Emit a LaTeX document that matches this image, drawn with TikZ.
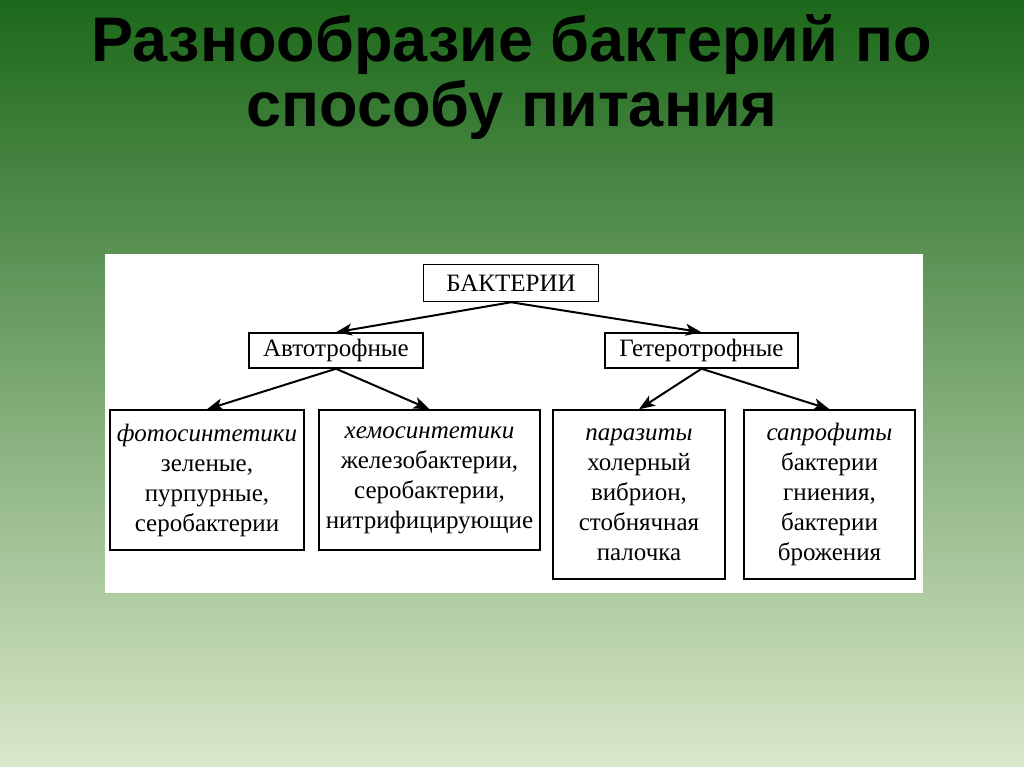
\documentclass[tikz,border=0pt]{standalone}
\usepackage{fontspec}
\usetikzlibrary{arrows.meta}
\setmainfont{Liberation Serif}
\newfontfamily\headfont{Liberation Sans}
\definecolor{slidetop}{RGB}{28,104,26}
\definecolor{slidemid}{RGB}{145,180,108}
\definecolor{slidebottom}{RGB}{218,232,202}
\begin{document}
\begin{tikzpicture}[x=1pt,y=-1pt]
\tikzstyle{box} = [rectangle, draw=black, line width=1.5pt, text centered, inner sep=0pt, font=\fontsize{25}{30}\selectfont]
\tikzstyle{group} = [box, align=center]
\tikzstyle{heading} = [anchor=base, font=\headfont\bfseries\fontsize{63}{72}\selectfont]
\tikzstyle{arrow} = [-{Stealth[length=16pt,width=12pt,inset=4pt]}, line width=2pt]

\useasboundingbox (0,0) rectangle (1024,767);
\shade [top color=slidetop, middle color=slidemid, bottom color=slidebottom] (0,0) rectangle (1024,767);
\fill [white] (105,254) rectangle (923,593);

\node (TitleTop) [heading] at (512,62) {Разнообразие бактерий по};
\node (TitleBottom) [heading] at (512,127) {способу питания};

\node (Bacteria) [box, minimum width=175pt, minimum height=37pt] at (511,283) {БАКТЕРИИ};
\node (Autotrophs) [box, minimum width=174pt, minimum height=35pt] at (336,350.5) {Автотрофные};
\node (Heterotrophs) [box, minimum width=193pt, minimum height=35pt] at (701.5,350.5) {Гетеротрофные};
\node (Photosynthetics) [group, minimum width=194pt, minimum height=140pt] at (207,480) {\textit{фотосинтетики}\\зеленые,\\пурпурные,\\серобактерии};
\node (Chemosynthetics) [group, minimum width=221pt, minimum height=140pt] at (429.5,480) {\textit{хемосинтетики}\\железобактерии,\\серобактерии,\\нитрифицирующие};
\node (Parasites) [group, minimum width=172pt, minimum height=169pt] at (639,494.5) {\textit{паразиты}\\холерный\\вибрион,\\стобнячная\\палочка};
\node (Saprophytes) [group, minimum width=171pt, minimum height=169pt] at (829.5,494.5) {\textit{сапрофиты}\\бактерии\\гниения,\\бактерии\\брожения};

\draw [arrow] (Bacteria.south) -- (Autotrophs.north);
\draw [arrow] (Bacteria.south) -- (Heterotrophs.north);
\draw [arrow] (Autotrophs.south) -- (Photosynthetics.north);
\draw [arrow] (Autotrophs.south) -- (Chemosynthetics.north);
\draw [arrow] (Heterotrophs.south) -- (Parasites.north);
\draw [arrow] (Heterotrophs.south) -- (Saprophytes.north);

\end{tikzpicture}
\end{document}
